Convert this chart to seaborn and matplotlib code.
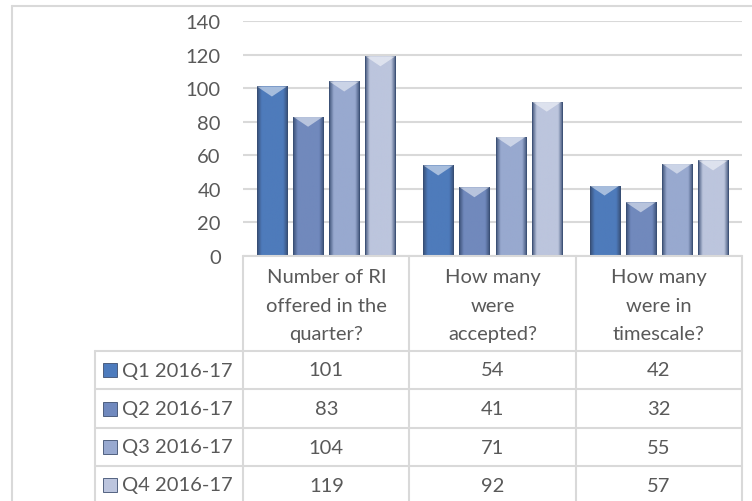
import numpy as np
import pandas as pd
import matplotlib.pyplot as plt
import seaborn as sns
from matplotlib.lines import Line2D
from matplotlib.patches import Rectangle
from matplotlib.colors import LinearSegmentedColormap

# dados
categorias = ["Number of RI\noffered in the\nquarter?", "How many\nwere\naccepted?", "How many\nwere in\ntimescale?"]
series = ["Q1 2016-17", "Q2 2016-17", "Q3 2016-17", "Q4 2016-17"]
q1 = [101, 54, 42]
q2 = [83, 41, 32]
q3 = [104, 71, 55]
q4 = [119, 92, 57]
yticks = [0, 20, 40, 60, 80, 100, 120, 140]
cores = ["#4d7bbd", "#7089be", "#98a9d0", "#bcc5de"]

valores = [q1, q2, q3, q4]
df = pd.DataFrame({
    "categoria": np.tile(categorias, len(series)),
    "serie": np.repeat(series, len(categorias)),
    "valor": np.concatenate(valores),
})

sns.set_theme(style="white")
plt.rcParams["font.family"] = ["Lato", "DejaVu Sans"]
texto = "#595959"
grade = "#d9d9d9"
fs = 14.5

W, H = 752, 502
fig = plt.figure(figsize=(W / 100, H / 100), dpi=100)

def px(x0, y0, x1, y1):
    return [x0 / W, 1 - y1 / H, (x1 - x0) / W, (y1 - y0) / H]

# borda externa
fig.add_artist(Line2D([12 / W, 12 / W], [0, 1 - 7 / H], transform=fig.transFigure, color=grade, lw=1.5))
fig.add_artist(Line2D([12 / W, 1], [1 - 7 / H, 1 - 7 / H], transform=fig.transFigure, color=grade, lw=1.5))

# grafico de barras
ax = fig.add_axes(px(243, 22, 742, 257))
sns.barplot(data=df, x="categoria", y="valor", hue="serie", palette=cores,
            width=0.87, gap=0.17, ax=ax, legend=False, edgecolor="#3d4f70", linewidth=0.6)
ax.set_yticks(yticks)
ax.set_xticks([])
ax.set_xlabel("")
ax.set_ylabel("")
ax.yaxis.grid(True, color=grade, lw=1.5)
ax.set_axisbelow(True)
for s in ax.spines.values():
    s.set_visible(False)
ax.tick_params(axis="y", length=0, pad=16, labelsize=fs, labelcolor=texto)

# efeito de gradiente nas barras
for i, p in enumerate(ax.patches):
    cor = cores[i // len(categorias)]
    cmap = LinearSegmentedColormap.from_list("g", [(0, "#34496f"), (0.15, cor), (0.5, cor), (0.85, cor), (1, "#34496f")])
    x0, y0 = p.get_x(), p.get_y()
    w, h = p.get_width(), p.get_height()
    im = ax.imshow(np.linspace(0, 1, 64).reshape(1, -1), cmap=cmap, aspect="auto",
                   extent=[x0, x0 + w, y0, y0 + h], zorder=p.get_zorder() + 0.1, alpha=0.9)
    im.set_clip_path(p)
    topo = plt.Polygon([[x0, y0 + h], [x0 + w, y0 + h], [x0 + w / 2, y0 + h - 6]],
                       closed=True, color="white", alpha=0.5, zorder=p.get_zorder() + 0.2, lw=0)
    ax.add_patch(topo)
ax.set_xlim(-0.5, 2.5)
ax.set_ylim(0, 140)

# tabela de dados
leg_x = -0.5 - (243 - 95) / 166
tab = fig.add_axes(px(95, 257, 742, 505))
tab.set_xlim(leg_x, 2.5)
tab.set_ylim(505, 257)
tab.axis("off")
bordas = [352, 390, 429, 467, 505]
kw = dict(color=grade, lw=1.5, clip_on=False)
tab.plot([-0.5, 2.5], [257, 257], **kw)
for b in bordas:
    tab.plot([leg_x, 2.5], [b, b], **kw)
for xv in [-0.5, 0.5, 1.5, 2.5]:
    tab.plot([xv, xv], [257, 505], **kw)
tab.plot([leg_x, leg_x], [352, 505], **kw)

for j, cat in enumerate(categorias):
    tab.text(j, 306, cat, ha="center", va="center", fontsize=fs, color=texto, linespacing=1.8)

for i, serie in enumerate(series):
    yc = (bordas[i] + bordas[i + 1]) / 2
    tab.add_patch(Rectangle((leg_x + 0.05, yc - 7), 0.084, 14, facecolor=cores[i],
                            edgecolor="#3d4f70", lw=0.6))
    tab.text(leg_x + 0.16, yc, serie, ha="left", va="center", fontsize=fs, color=texto)
    for j in range(len(categorias)):
        tab.text(j, yc, str(valores[i][j]), ha="center", va="center", fontsize=fs, color=texto)

fig.savefig("out.png", dpi=100)
